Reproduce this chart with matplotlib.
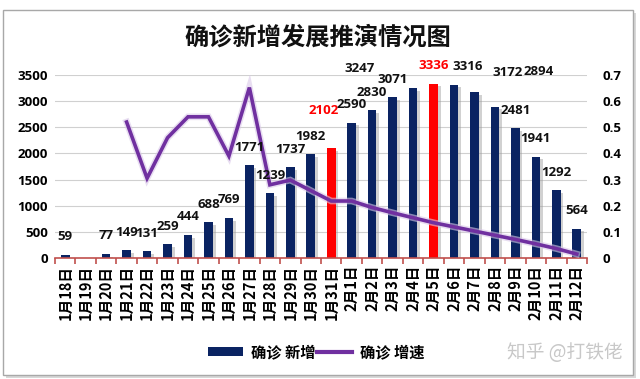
import matplotlib
matplotlib.use("Agg")
import matplotlib.pyplot as plt
import numpy as np
from matplotlib.patches import Patch, Rectangle
from matplotlib.lines import Line2D
import matplotlib.patheffects as pe

# ---------------- data ----------------
dates = ["1月18日", "1月19日", "1月20日", "1月21日", "1月22日", "1月23日", "1月24日",
         "1月25日", "1月26日", "1月27日", "1月28日", "1月29日", "1月30日", "1月31日",
         "2月1日", "2月2日", "2月3日", "2月4日", "2月5日", "2月6日", "2月7日",
         "2月8日", "2月9日", "2月10日", "2月11日", "2月12日"]
new_cases = [59, 0, 77, 149, 131, 259, 444, 688, 769, 1771, 1239, 1737, 1982, 2102,
             2590, 2830, 3071, 3247, 3336, 3316, 3172, 2894, 2481, 1941, 1292, 564]
growth = [np.nan, np.nan, np.nan, 0.52, 0.305, 0.46, 0.54, 0.54, 0.39, 0.652, 0.28,
          0.298, 0.258, 0.218, 0.218, 0.193, 0.173, 0.154, 0.135, 0.119, 0.103,
          0.087, 0.071, 0.054, 0.036, 0.015]
highlight = ["1月31日", "2月5日"]
left_ticks = [0, 500, 1000, 1500, 2000, 2500, 3000, 3500]
right_ticks = [0, 0.1, 0.2, 0.3, 0.4, 0.5, 0.6, 0.7]
right_labels = ["0", "0.1", "0.2", "0.3", "0.4", "0.5", "0.6", "0.7"]
title = "确诊新增发展推演情况图"
legend_labels = ["确诊 新增", "确诊 增速"]
watermark = "知乎 @打铁佬"

# label offsets (pixels) for labels moved away from their bars
label_shift = {"2月4日": (-54, 2), "2月6日": (14, 0), "2月7日": (33, 2),
               "2月8日": (44, 17), "1月31日": (-8, 20)}

NAVY = "#0A2362"
RED = "#FF0000"
PURPLE = "#7030A0"
CJK = ["Noto Sans CJK SC", "DejaVu Sans"]
NUMF = ["Open Sans", "DejaVu Sans"]

fig = plt.figure(figsize=(6.4, 3.79), dpi=100)
fig.patch.set_facecolor("white")

# outer frame with shadow
fig.patches.append(Rectangle((6 / 640, 1 - 378 / 379), 630 / 640, 365 / 379,
                             transform=fig.transFigure, facecolor="#D8D8D8",
                             edgecolor="none", zorder=-3))
fig.patches.append(Rectangle((3 / 640, 1 - 375 / 379), 630 / 640, 365 / 379,
                             transform=fig.transFigure, facecolor="white",
                             edgecolor="#A8A8A8", linewidth=1.0, zorder=-2))

ax = fig.add_axes([55 / 640, 1 - 258 / 379, 532 / 640, 183 / 379])
ax.set_facecolor("none")
x = np.arange(len(dates))
colors = [RED if d in highlight else NAVY for d in dates]
bars = ax.bar(x, new_cases, width=0.42, color=colors, zorder=3)
for b in bars:
    b.set_path_effects([pe.SimplePatchShadow(offset=(2, -2), shadow_rgbFace="#9A9A9A", alpha=0.45),
                        pe.Normal()])

ax.set_xlim(-0.5, len(dates) - 0.5)
ax.set_ylim(0, 3500)
ax.set_yticks(left_ticks)
ax.set_yticklabels([str(t) for t in left_ticks], fontfamily=NUMF, fontweight="bold", fontsize=9.5)
ax.yaxis.grid(True, color="#D0D0D0", linewidth=0.8, zorder=0)
ax.set_axisbelow(True)
ax.tick_params(axis="y", length=0, pad=5)
for s in ["top", "left", "right"]:
    ax.spines[s].set_visible(False)
ax.spines["bottom"].set_color("#C0504D")
ax.spines["bottom"].set_linewidth(1.2)
ax.spines["bottom"].set_zorder(5)

ax.set_xticks(x)
ax.set_xticklabels(dates, rotation=90, fontfamily=CJK, fontweight="bold", fontsize=10.5)
ax.tick_params(axis="x", length=0, pad=5)
ax.set_xticks(np.arange(-0.5, len(dates)), minor=True)
ax.tick_params(axis="x", which="minor", length=4, color="#C0504D", width=1.2, direction="out")

ax2 = ax.twinx()
ax2.set_ylim(0, 0.7)
ax2.set_yticks(right_ticks)
ax2.set_yticklabels(right_labels, fontfamily=NUMF, fontweight="bold", fontsize=9.5)
ax2.tick_params(axis="y", length=0, pad=11)
for s in ["top", "left", "right", "bottom"]:
    ax2.spines[s].set_visible(False)
ax2.plot(x, growth, color=PURPLE, linewidth=2.6, zorder=4, solid_joinstyle="miter",
         path_effects=[pe.Stroke(linewidth=4.8, foreground="#D9C8E8", alpha=0.6), pe.Normal()])

# data labels
for i, (d, v) in enumerate(zip(dates, new_cases)):
    if v <= 0:
        continue
    dx, dy = label_shift.get(d, (0, 0))
    ax2.annotate(str(v), xy=(i, v), xycoords=ax.transData,
                 xytext=(dx, 18 + dy), textcoords="offset pixels",
                 ha="center", va="center", fontsize=9.5, fontweight="bold",
                 fontfamily=NUMF, color=RED if d in highlight else "#111111", zorder=6)

fig.text(318 / 640, 1 - 38 / 379, title, ha="center", va="center",
         fontsize=17.5, fontweight="bold", fontfamily=CJK, color="#111111")

handles = [Patch(facecolor=NAVY, edgecolor="none"),
           Line2D([0], [0], color=PURPLE, linewidth=3)]
leg = fig.legend(handles, legend_labels, loc="center", bbox_to_anchor=(316 / 640, 1 - 352 / 379),
                 ncol=2, frameon=False, handlelength=2.3, handleheight=0.55, handletextpad=0.5,
                 columnspacing=0.1, prop={"family": CJK, "weight": "bold", "size": 11})

fig.text(565 / 640, 1 - 352 / 379, watermark, ha="center", va="center",
         fontsize=13.5, fontfamily=CJK, color="#C8C8C8")

fig.savefig("out.png", dpi=100)
